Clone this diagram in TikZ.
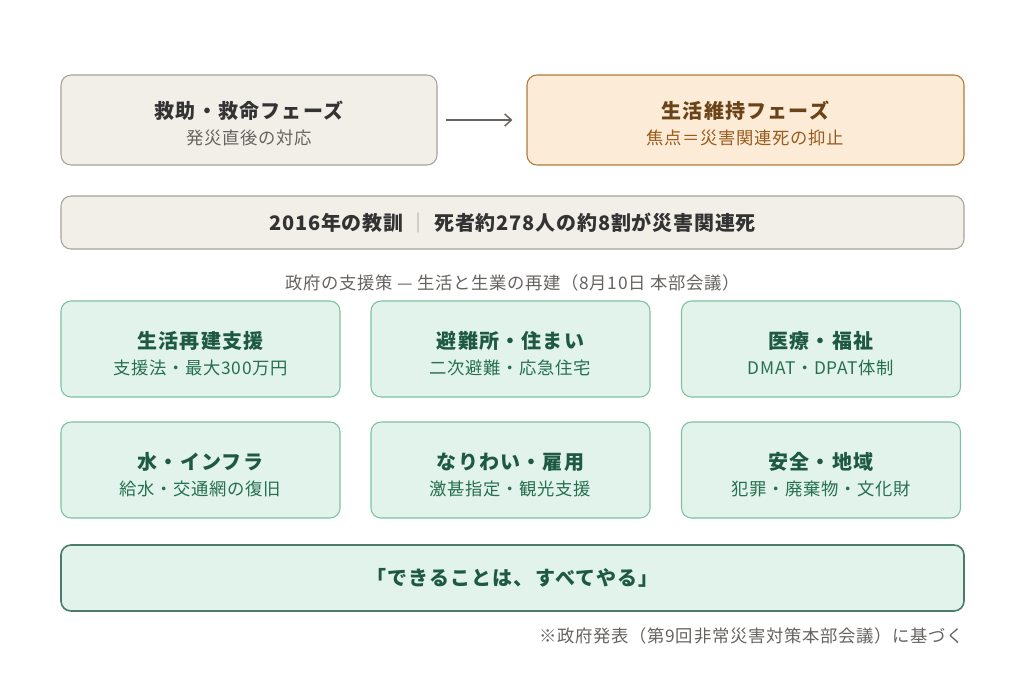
\documentclass[tikz,border=0pt]{standalone}
\usepackage{fontspec}
\setmainfont{Noto Sans CJK JP}
\usetikzlibrary{positioning,arrows.meta}
\definecolor{grayfill}{HTML}{F2EFE9}
\definecolor{grayline}{HTML}{A8A39B}
\definecolor{graytext}{HTML}{333333}
\definecolor{graysub}{HTML}{666360}
\definecolor{orangefill}{HTML}{FCEBD7}
\definecolor{orangeline}{HTML}{B07A3C}
\definecolor{orangetext}{HTML}{6A4418}
\definecolor{orangesub}{HTML}{985C1C}
\definecolor{greenfill}{HTML}{E2F3EC}
\definecolor{greenline}{HTML}{7DC1A4}
\definecolor{greentext}{HTML}{1E5A43}
\definecolor{greensub}{HTML}{26704F}
\newcommand{\headfont}{\fontsize{15}{18}\selectfont\bfseries\addfontfeatures{LetterSpace=6}}
\newcommand{\subfont}{\fontsize{13}{16}\selectfont\addfontfeatures{LetterSpace=4}}
\begin{document}
\begin{tikzpicture}[x=0.75pt,y=-0.75pt,
    phasebox/.style={draw=grayline,fill=grayfill,rounded corners=7.5pt,line width=0.8pt,
        minimum width=282pt,minimum height=67.5pt,inner sep=0pt},
    focusbox/.style={phasebox,draw=orangeline,fill=orangefill,minimum width=327.75pt},
    lessonbox/.style={phasebox,minimum width=677.25pt,minimum height=39.75pt},
    measure/.style={draw=greenline,fill=greenfill,rounded corners=7.5pt,line width=0.8pt,
        minimum width=209.25pt,minimum height=72pt,inner sep=0pt},
    motto/.style={measure,draw=greentext!80,line width=1.2pt,minimum width=677.25pt,minimum height=49.5pt},
    head/.style={inner sep=0pt,font=\headfont},
    sub/.style={inner sep=0pt,font=\subfont},
    note/.style={sub,text=graysub}]
    \useasboundingbox (0,0) rectangle (1024,672);
    \node (rescue) [phasebox] at (249,120) {};
    \node (rescue-t) [head,text=graytext] at (249,111) {救助・救命フェーズ};
    \node (rescue-s) [sub,text=graysub] at (249,138) {発災直後の対応};
    \node (life) [focusbox] at (745.5,120) {};
    \node (life-t) [head,text=orangetext] at (745.5,111) {生活維持フェーズ};
    \node (life-s) [sub,text=orangesub] at (745.5,138) {焦点＝災害関連死の抑止};
    \draw[-{Straight Barb[length=5pt,width=9pt]},graysub,line width=1.1pt,shorten <=6pt,shorten >=10.5pt] (rescue) -- (life);
    \node (lesson) [lessonbox] at (512.5,222.5) {};
    \node (lesson-t) [head,text=graytext,font=\headfont\addfontfeatures{LetterSpace=4}] at (512.5,222.5)
        {2016年の教訓 {\color{grayline}\mdseries ｜} 死者約278人の約8割が災害関連死};
    \node (policy) [note] at (512.5,283) {政府の支援策 — 生活と生業の再建（8月10日 本部会議）};
    \node (m1) [measure] at (200.5,349) {};
    \node (m1-t) [head,text=greentext] at (200.5,341) {生活再建支援};
    \node (m1-s) [sub,text=greensub] at (200.5,368) {支援法・最大300万円};
    \node (m2) [measure] at (510.5,349) {};
    \node (m2-t) [head,text=greentext] at (510.5,341) {避難所・住まい};
    \node (m2-s) [sub,text=greensub] at (510.5,368) {二次避難・応急住宅};
    \node (m3) [measure] at (821,349) {};
    \node (m3-t) [head,text=greentext] at (821,341) {医療・福祉};
    \node (m3-s) [sub,text=greensub] at (821,368) {DMAT・DPAT体制};
    \node (m4) [measure] at (200.5,470) {};
    \node (m4-t) [head,text=greentext] at (200.5,462) {水・インフラ};
    \node (m4-s) [sub,text=greensub] at (200.5,489) {給水・交通網の復旧};
    \node (m5) [measure] at (510.5,470) {};
    \node (m5-t) [head,text=greentext] at (510.5,462) {なりわい・雇用};
    \node (m5-s) [sub,text=greensub] at (510.5,489) {激甚指定・観光支援};
    \node (m6) [measure] at (821,470) {};
    \node (m6-t) [head,text=greentext] at (821,462) {安全・地域};
    \node (m6-s) [sub,text=greensub] at (821,489) {犯罪・廃棄物・文化財};
    \node (slogan) [motto] at (512.5,578) {};
    \node (slogan-t) [head,text=greentext] at (512.5,578) {「できることは、すべてやる」};
    \node (source) [note,anchor=east] at (964,636) {※政府発表（第9回非常災害対策本部会議）に基づく};
\end{tikzpicture}
\end{document}
